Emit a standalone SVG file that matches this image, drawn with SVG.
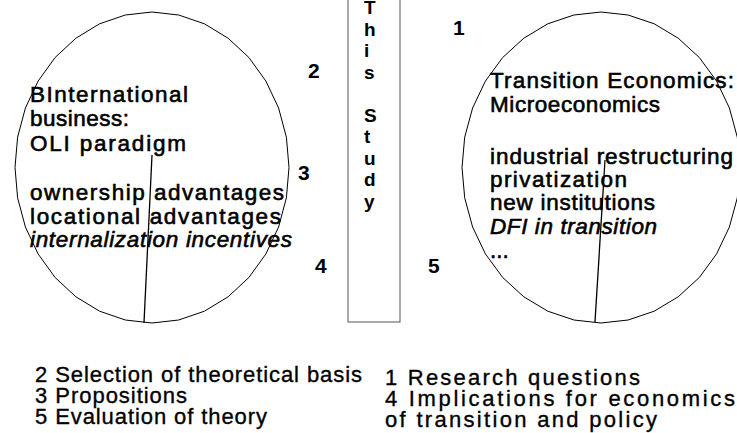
<svg xmlns="http://www.w3.org/2000/svg" width="737" height="433" viewBox="0 0 737 433">
  <style>
    .bg { fill: #ffffff; }
    .circle { fill: none; stroke: #000000; stroke-width: 1; stroke-linejoin: miter; }
    .spoke { stroke: #000000; stroke-width: 1.3; }
    .box { fill: none; stroke: #555555; stroke-width: 1; }
    .t { font-family: "Liberation Sans", Arial, sans-serif; font-size: 22.5px; fill: #000000; stroke: #000000; stroke-width: 0.6; }
    .it { font-style: italic; }
    .num { font-family: "Liberation Sans", Arial, sans-serif; font-weight: bold; font-size: 21px; fill: #000000; }
    .vert { font-family: "Liberation Sans", Arial, sans-serif; font-weight: bold; font-size: 19px; fill: #000000; }
    .foot { font-family: "Liberation Sans", Arial, sans-serif; font-size: 22px; fill: #000000; stroke: #000000; stroke-width: 0.35; }
  </style>

  <rect class="bg" x="0" y="0" width="737" height="433"/>

  <!-- left field: international business (32-sided outline) -->
  <g id="node-oli">
    <polygon class="circle" points="289,167.5 286.4,197.8 278.6,227 265.9,253.9 248.9,277.5 228.1,296.8 204.4,311.2 178.7,320 152,323 125.3,320 99.6,311.2 75.9,296.8 55.1,277.5 38.1,253.9 25.4,227 17.6,197.8 15,167.5 17.6,137.2 25.4,108 38.1,81.1 55.1,57.5 75.9,38.2 99.6,23.8 125.3,15 152,12 178.7,15 204.4,23.8 228.1,38.2 248.9,57.5 265.9,81.1 278.6,108 286.4,137.2"/>
    <text class="t" x="30" y="102" textLength="158" lengthAdjust="spacing">BInternational</text>
    <text class="t" x="30" y="126" textLength="99" lengthAdjust="spacing">business:</text>
    <text class="t" x="30" y="151" textLength="156" lengthAdjust="spacing">OLI paradigm</text>
    <text class="t" x="30" y="200" textLength="254" lengthAdjust="spacing">ownership advantages</text>
    <text class="t" x="30" y="224" textLength="251" lengthAdjust="spacing">locational advantages</text>
    <text class="t it" x="30" y="247" textLength="262" lengthAdjust="spacing">internalization incentives</text>
  </g>

  <!-- centre column: this study -->
  <g id="node-study">
    <rect class="box" x="348" y="-2" width="52" height="324"/>
    <text class="vert" x="364" y="14">T</text>
    <text class="vert" x="364" y="36">h</text>
    <text class="vert" x="364" y="57">i</text>
    <text class="vert" x="364" y="79">s</text>
    <text class="vert" x="364" y="122">S</text>
    <text class="vert" x="364" y="143">t</text>
    <text class="vert" x="364" y="165">u</text>
    <text class="vert" x="364" y="186">d</text>
    <text class="vert" x="364" y="208">y</text>
  </g>

  <!-- right field: transition economics (32-sided outline) -->
  <g id="node-transition">
    <polygon class="circle" points="740,167.5 737.3,197.8 729.4,227 716.6,253.9 699.3,277.5 678.2,296.8 654.2,311.2 628.1,320 601,323 573.9,320 547.8,311.2 523.8,296.8 502.7,277.5 485.4,253.9 472.6,227 464.7,197.8 462,167.5 464.7,137.2 472.6,108 485.4,81.1 502.7,57.5 523.8,38.2 547.8,23.8 573.9,15 601,12 628.1,15 654.2,23.8 678.2,38.2 699.3,57.5 716.6,81.1 729.4,108 737.3,137.2"/>
    <text class="t" x="490" y="88" textLength="244" lengthAdjust="spacing">Transition Economics:</text>
    <text class="t" x="490" y="112" textLength="170" lengthAdjust="spacing">Microeconomics</text>
    <text class="t" x="490" y="164" textLength="243" lengthAdjust="spacing">industrial restructuring</text>
    <text class="t" x="490" y="187" textLength="137" lengthAdjust="spacing">privatization</text>
    <text class="t" x="490" y="210" textLength="165" lengthAdjust="spacing">new institutions</text>
    <text class="t it" x="490" y="234" textLength="167" lengthAdjust="spacing">DFI in transition</text>
    <text class="t" x="490" y="258">...</text>
  </g>

  <!-- step numbers -->
  <g id="node-steps">
    <text class="num" x="453" y="35">1</text>
    <text class="num" x="308" y="78">2</text>
    <text class="num" x="298" y="180">3</text>
    <text class="num" x="315" y="273">4</text>
    <text class="num" x="428" y="273">5</text>
  </g>

  <!-- radial dividers inside each field -->
  <g id="connectors">
    <line class="spoke" x1="152" y1="155" x2="144" y2="323"/>
    <line class="spoke" x1="605" y1="160" x2="595" y2="322"/>
  </g>

  <!-- legend -->
  <g id="node-legend-left">
    <text class="foot" x="35" y="382" textLength="327" lengthAdjust="spacing">2 Selection of theoretical basis</text>
    <text class="foot" x="35" y="403" textLength="152" lengthAdjust="spacing">3 Propositions</text>
    <text class="foot" x="35" y="424" textLength="232" lengthAdjust="spacing">5 Evaluation of theory</text>
  </g>
  <g id="node-legend-right">
    <text class="foot" x="385" y="385" textLength="255" lengthAdjust="spacing">1 Research questions</text>
    <text class="foot" x="385" y="406" textLength="350" lengthAdjust="spacing">4 Implications for economics</text>
    <text class="foot" x="385" y="427" textLength="272" lengthAdjust="spacing">of transition and policy</text>
  </g>
</svg>
